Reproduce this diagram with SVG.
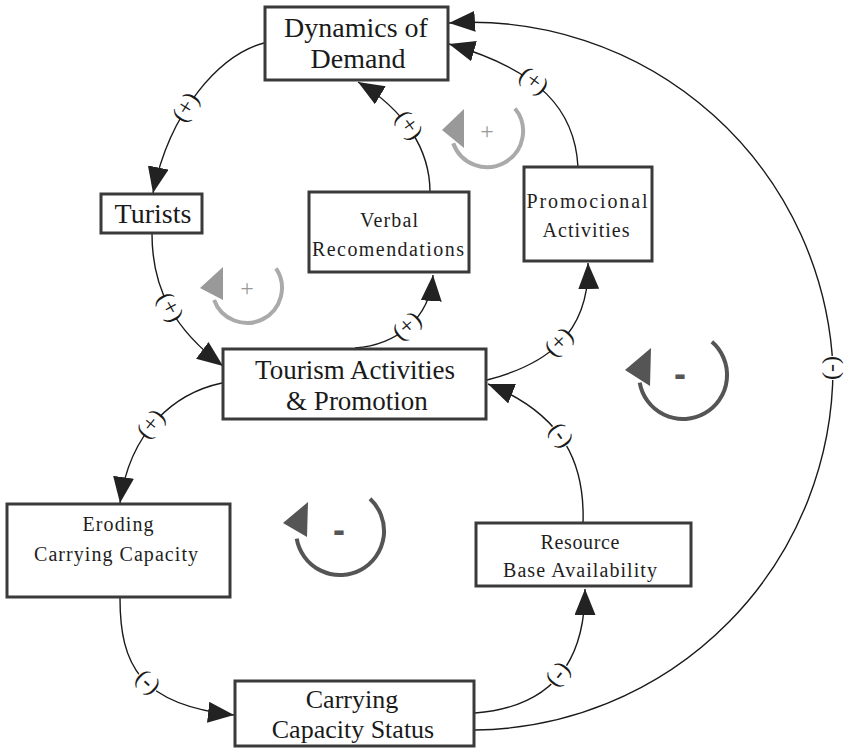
<svg xmlns="http://www.w3.org/2000/svg" width="848" height="749" viewBox="0 0 848 749">
  <style>
    .box { fill: #ffffff; stroke: #3a3a3a; stroke-width: 3; }
    .big { font-family: "Liberation Serif", "Times New Roman", serif; font-size: 28px; fill: #1a1a1a; text-anchor: middle; }
    .small { font-family: "Liberation Serif", "Times New Roman", serif; font-size: 20px; fill: #1e1e1e; text-anchor: middle; }
    .link { fill: none; stroke: #1a1a1a; stroke-width: 1.4; marker-end: url(#head); }
    .pol rect { fill: #ffffff; }
    .pol text { font-family: "Liberation Serif", "Times New Roman", serif; font-size: 24px; fill: #1a1a1a; text-anchor: middle; }
    .loop-light { fill: none; stroke: #aaaaaa; stroke-width: 4; }
    .loop-dark { fill: none; stroke: #555555; stroke-width: 4; }
    .tri-light { fill: #999999; }
    .tri-dark { fill: #555555; }
    .sign-plus { font-family: "Liberation Serif", serif; font-size: 24px; fill: #999999; text-anchor: middle; }
    .sign-minus { font-family: "Liberation Sans", sans-serif; font-size: 36px; font-weight: bold; fill: #555555; text-anchor: middle; }
  </style>
  <defs>
    <marker id="head" markerUnits="userSpaceOnUse" markerWidth="26" markerHeight="21" refX="26" refY="10.5" orient="auto">
      <path d="M0,0 L26,10.5 L0,21 z" fill="#222222"/>
    </marker>
  </defs>

  <rect width="848" height="749" fill="#ffffff"/>

  <!-- causal links -->
  <g id="connectors">
    <path class="link" d="M264,43 C220,55 170,110 153,193"/>
    <path class="link" d="M152,234 C152,290 175,330 223,366"/>
    <path class="link" d="M430,192 C430,150 405,110 358,82"/>
    <path class="link" d="M355,348 C395,345 430,320 433,275"/>
    <path class="link" d="M578,167 C575,110 540,70 449,44"/>
    <path class="link" d="M487,380 C545,365 590,335 588,263"/>
    <path class="link" d="M583,523 C585,465 565,415 488,384"/>
    <path class="link" d="M222,383 C175,393 130,430 120,503"/>
    <path class="link" d="M120,598 C120,665 140,705 234,715"/>
    <path class="link" d="M475,713 C540,708 585,675 585,589"/>
    <path class="link" d="M475,730 A362,362 0 0 0 833,368 A362,362 0 0 0 449,23"/>

    <!-- link polarities -->
    <g class="pol" transform="translate(187,108) rotate(-58)"><rect x="-12" y="-8" width="24" height="16"/><text y="6">(+)</text></g>
    <g class="pol" transform="translate(169,308) rotate(61)"><rect x="-12" y="-8" width="24" height="16"/><text y="6">(+)</text></g>
    <g class="pol" transform="translate(408,126) rotate(54)"><rect x="-12" y="-8" width="24" height="16"/><text y="6">(+)</text></g>
    <g class="pol" transform="translate(408,327) rotate(-41)"><rect x="-12" y="-8" width="24" height="16"/><text y="6">(+)</text></g>
    <g class="pol" transform="translate(533,82) rotate(37)"><rect x="-12" y="-8" width="24" height="16"/><text y="6">(+)</text></g>
    <g class="pol" transform="translate(560,343) rotate(-45)"><rect x="-12" y="-8" width="24" height="16"/><text y="6">(+)</text></g>
    <g class="pol" transform="translate(560,436) rotate(54)"><rect x="-12" y="-8" width="24" height="16"/><text y="6">(-)</text></g>
    <g class="pol" transform="translate(152,425) rotate(-51)"><rect x="-12" y="-8" width="24" height="16"/><text y="6">(+)</text></g>
    <g class="pol" transform="translate(147,683) rotate(43)"><rect x="-12" y="-8" width="24" height="16"/><text y="6">(-)</text></g>
    <g class="pol" transform="translate(559,675) rotate(-51)"><rect x="-12" y="-8" width="24" height="16"/><text y="6">(-)</text></g>
    <g class="pol" transform="translate(833,368) rotate(90)"><rect x="-12" y="-8" width="24" height="16"/><text y="6">(-)</text></g>
  </g>

  <!-- feedback loop markers -->
  <g id="loop-demand">
    <path class="loop-light" d="M515,108.4 A36,36 0 1 1 453.2,143.3"/>
    <polygon class="tri-light" points="464,109 442,130 464,148"/>
    <text class="sign-plus" x="487" y="139">+</text>
  </g>
  <g id="loop-turists">
    <path class="loop-light" d="M276,268.4 A35,35 0 1 1 214.1,300"/>
    <polygon class="tri-light" points="223,267 200,288 223,300"/>
    <text class="sign-plus" x="247" y="296">+</text>
  </g>
  <g id="loop-erosion">
    <path class="loop-dark" d="M370,498.8 A44,44 0 1 1 296.7,538.6"/>
    <polygon class="tri-dark" points="308,502 283,523 307,537"/>
    <text class="sign-minus" x="339" y="542">-</text>
  </g>
  <g id="loop-resources">
    <path class="loop-dark" d="M711.9,341.8 A44,44 0 1 1 639.7,382.6"/>
    <polygon class="tri-dark" points="651,348 625,370 650,386"/>
    <text class="sign-minus" x="680" y="386">-</text>
  </g>

  <!-- variables -->
  <g id="dynamics-of-demand">
    <rect class="box" x="265" y="7" width="183" height="73"/>
    <text class="big" x="356" y="37">Dynamics of</text>
    <text class="big" x="358" y="68">Demand</text>
  </g>
  <g id="turists">
    <rect class="box" x="101" y="194" width="101" height="39"/>
    <text class="big" x="153" y="223">Turists</text>
  </g>
  <g id="verbal-recomendations">
    <rect class="box" x="309" y="192" width="160" height="80"/>
    <text class="small" x="389" y="227" textLength="58" lengthAdjust="spacing">Verbal</text>
    <text class="small" x="388" y="256" textLength="152" lengthAdjust="spacing">Recomendations</text>
  </g>
  <g id="promocional-activities">
    <rect class="box" x="524" y="167" width="128" height="94"/>
    <text class="small" x="587" y="208" textLength="121" lengthAdjust="spacing">Promocional</text>
    <text class="small" x="586" y="237" textLength="87" lengthAdjust="spacing">Activities</text>
  </g>
  <g id="tourism-activities">
    <rect class="box" x="223" y="349" width="263" height="70"/>
    <text class="big" x="355" y="379" style="font-size:27px">Tourism Activities</text>
    <text class="big" x="357" y="410" style="font-size:27px">&amp; Promotion</text>
  </g>
  <g id="eroding-carrying-capacity">
    <rect class="box" x="7" y="504" width="223" height="93"/>
    <text class="small" x="118" y="531" textLength="71" lengthAdjust="spacing">Eroding</text>
    <text class="small" x="116" y="561" textLength="164" lengthAdjust="spacing">Carrying Capacity</text>
  </g>
  <g id="carrying-capacity-status">
    <rect class="box" x="235" y="681" width="239" height="65"/>
    <text class="big" x="352" y="708" style="font-size:26px">Carrying</text>
    <text class="big" x="353" y="738" style="font-size:26px">Capacity Status</text>
  </g>
  <g id="resource-base-availability">
    <rect class="box" x="476" y="523" width="215" height="63"/>
    <text class="small" x="580" y="549" textLength="79" lengthAdjust="spacing">Resource</text>
    <text class="small" x="580" y="577" textLength="154" lengthAdjust="spacing">Base Availability</text>
  </g>
</svg>
